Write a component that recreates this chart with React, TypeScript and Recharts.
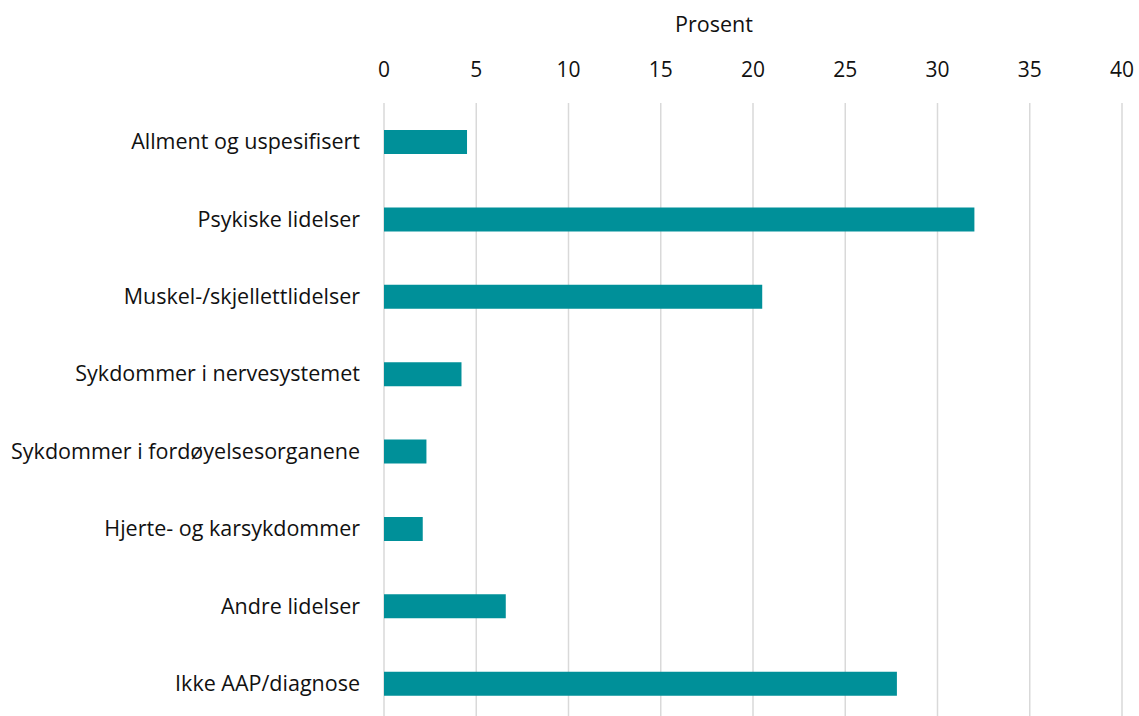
import React from 'react';
import { BarChart, Bar, XAxis, YAxis, CartesianGrid } from 'recharts';

const categories = [
  'Allment og uspesifisert',
  'Psykiske lidelser',
  'Muskel-/skjellettlidelser',
  'Sykdommer i nervesystemet',
  'Sykdommer i fordøyelsesorganene',
  'Hjerte- og karsykdommer',
  'Andre lidelser',
  'Ikke AAP/diagnose',
];
const prosent = [4.5, 32.0, 20.5, 4.2, 2.3, 2.1, 6.6, 27.8];
const xTicks = [0, 5, 10, 15, 20, 25, 30, 35, 40];
const axisTitle = 'Prosent';

const data = categories.map((name, i) => ({ name, value: prosent[i] }));

const font = '"Open Sans", Lato, sans-serif';
const fs = 21.5;

const App: React.FC = () => {
  return (
    <div
      style={{
        position: 'fixed',
        left: 0,
        top: 0,
        width: 1139,
        height: 716,
        overflow: 'hidden',
        background: '#fff',
        fontFamily: font,
      }}
    >
      <div
        style={{
          position: 'absolute',
          left: 714,
          top: 9,
          transform: 'translateX(-50%)',
          fontSize: fs,
          color: '#111',
          whiteSpace: 'nowrap',
        }}
      >
        {axisTitle}
      </div>
      <BarChart
        width={1139}
        height={730}
        data={data}
        layout="vertical"
        margin={{ top: 43, right: 17, left: 0, bottom: 8 }}
        barSize={24}
      >
        <CartesianGrid horizontal={false} stroke="#d9d9d9" strokeWidth={1.5} />
        <XAxis
          type="number"
          orientation="top"
          domain={[0, 40]}
          ticks={xTicks}
          height={60}
          axisLine={false}
          tickLine={false}
          tickMargin={20}
          tick={{ fontSize: 21, fill: '#111', fontFamily: font }}
        />
        <YAxis
          type="category"
          dataKey="name"
          width={384}
          axisLine={false}
          tickLine={false}
          tickMargin={18}
          interval={0}
          tick={{ fontSize: fs, fill: '#111', fontFamily: font }}
        />
        <Bar dataKey="value" fill="#009099" isAnimationActive={false} />
      </BarChart>
    </div>
  );
};

export default App;
